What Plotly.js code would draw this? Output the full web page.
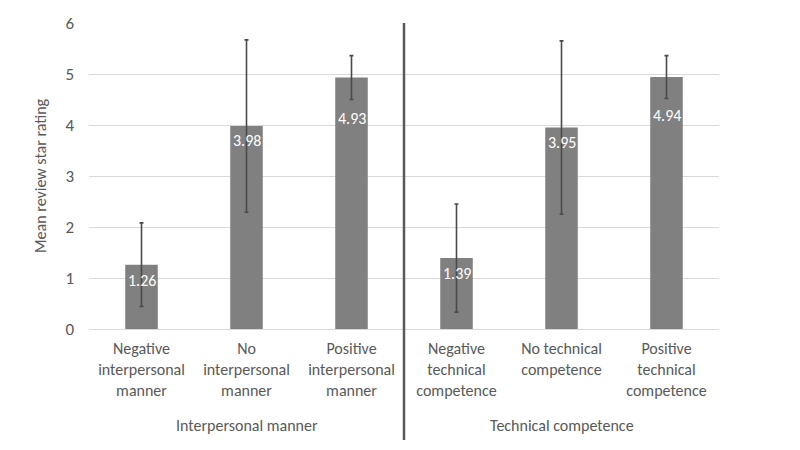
<!DOCTYPE html>
<html>
<head>
<meta charset="utf-8">
<script src="https://cdn.plot.ly/plotly-3.0.1.min.js"></script>
<style>html,body{margin:0;padding:0;background:#fff;}#chart{width:800px;height:450px;}</style>
</head>
<body>
<div id="chart"></div>
<script>
// Data
const categories = [
  "Negative<br>interpersonal<br>manner",
  "No<br>interpersonal<br>manner",
  "Positive<br>interpersonal<br>manner",
  "Negative<br>technical<br>competence",
  "No technical<br>competence",
  "Positive<br>technical<br>competence"
];
const groups = ["Interpersonal manner", "Technical competence"];
const groupCenters = [1, 4]; // category index at group centre
const meanRating = [1.26, 3.98, 4.93, 1.39, 3.95, 4.94];
const errorSize = [0.82, 1.69, 0.43, 1.06, 1.70, 0.42];
const yTicks = [0, 1, 2, 3, 4, 5, 6];

// Style (label drop in pixels below bar top)
const labelShift = [-4, -3, -29, -4, -3, -27];

const font = "Carlito, Lato, 'Open Sans', sans-serif";
const grey = "#595959";

const trace = {
  type: "bar",
  x: categories,
  y: meanRating,
  width: 0.31,
  marker: {color: "#808080"},
  error_y: {type: "data", array: errorSize, visible: true, color: "#4a4a4a", thickness: 1.6, width: 2},
  hoverinfo: "none"
};

const annotations = meanRating.map((v, i) => ({
  x: categories[i], y: v, xref: "x", yref: "y",
  text: v.toFixed(2), showarrow: false, yanchor: "top", yshift: labelShift[i],
  font: {family: font, size: 16, color: "#ffffff"}
}));
groups.forEach((g, i) => annotations.push({
  x: groupCenters[i], y: -0.314, xref: "x", yref: "paper",
  text: g, showarrow: false, yanchor: "middle",
  font: {family: font, size: 16, color: grey}
}));

const layout = {
  width: 800, height: 450,
  margin: {l: 89, r: 81, t: 23, b: 121},
  paper_bgcolor: "#ffffff", plot_bgcolor: "#ffffff",
  font: {family: font, color: grey},
  showlegend: false,
  xaxis: {
    type: "category",
    tickfont: {family: font, size: 16, color: grey},
    showgrid: false, showline: false, ticks: "",
    ticklabelstandoff: 8
  },
  yaxis: {
    range: [0, 6], tickvals: yTicks,
    tickfont: {family: font, size: 17, color: grey},
    gridcolor: "#d9d9d9", gridwidth: 1,
    zeroline: true, zerolinecolor: "#d9d9d9", zerolinewidth: 1,
    showline: false, ticks: "",
    ticklabelstandoff: 14,
    title: {text: "Mean review star rating", font: {family: font, size: 16, color: grey}, standoff: 14}
  },
  shapes: [{
    type: "line", xref: "x", yref: "paper",
    x0: 2.5, x1: 2.5, y0: 1, y1: -0.363,
    line: {color: grey, width: 2.5}
  }],
  annotations: annotations
};

Plotly.newPlot("chart", [trace], layout, {staticPlot: true, displayModeBar: false});
</script>
</body>
</html>
